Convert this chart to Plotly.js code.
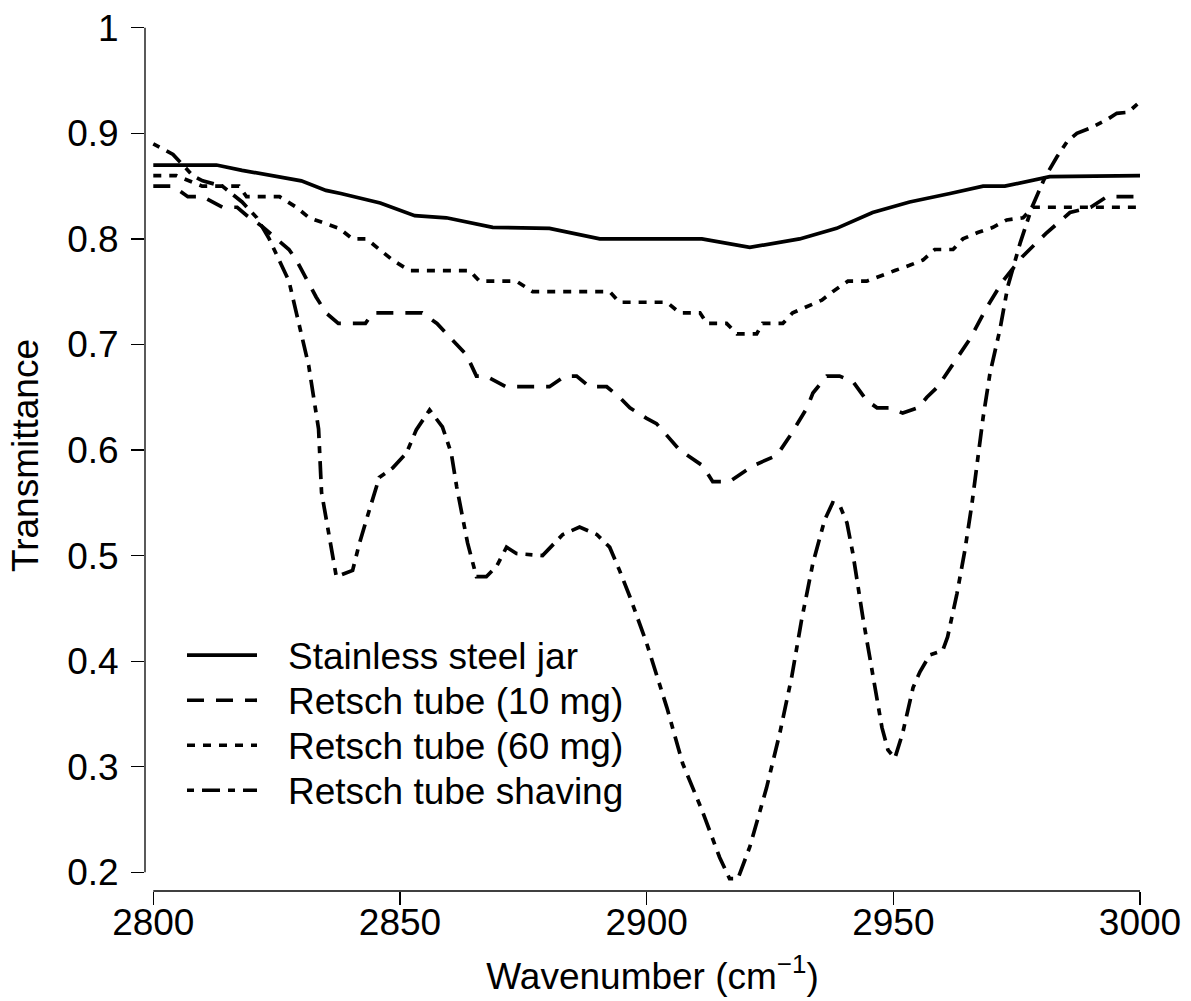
<!DOCTYPE html>
<html>
<head>
<meta charset="utf-8">
<script src="https://cdn.plot.ly/plotly-3.0.1.min.js"></script>
<style>html,body{margin:0;padding:0;background:#fff;}#chart{width:1191px;height:1001px;}</style>
</head>
<body>
<div id="chart"></div>
<script>
// ---- data ----
const seriesNames = ["Stainless steel jar", "Retsch tube (10 mg)", "Retsch tube (60 mg)", "Retsch tube shaving"];

const steelX = [2800, 2812.8, 2818, 2824, 2830, 2835, 2838, 2846, 2853, 2859.4, 2868.8, 2880.3, 2890.5, 2911.2, 2920.9, 2931, 2938.5, 2945.8, 2953.3, 2961.5, 2968.2, 2972.6, 2981.7, 3000];
const steelY = [0.87, 0.87, 0.865, 0.86, 0.855, 0.846, 0.843, 0.834, 0.822, 0.82, 0.811, 0.81, 0.80, 0.80, 0.792, 0.80, 0.81, 0.825, 0.835, 0.843, 0.85, 0.85, 0.859, 0.86];

const tube10X = [2800, 2804, 2807, 2810, 2814, 2817, 2819, 2822, 2825, 2827.5, 2829, 2831, 2833, 2835, 2837.5, 2843, 2844.5, 2854.5, 2857.5, 2861.5, 2863.5, 2865.5, 2867.5, 2871.5, 2880.3, 2883.4, 2885.8, 2888.4, 2891.9, 2894.5, 2896.6, 2900, 2902, 2906.7, 2911.4, 2913.4, 2916.8, 2921.5, 2926.4, 2929, 2932.5, 2933.7, 2936.5, 2939.1, 2941.8, 2944.6, 2946.7, 2949.3, 2951.9, 2955, 2956.8, 2959, 2961.9, 2965.5, 2968.8, 2972.2, 2976.1, 2980.9, 2985.8, 2990, 2993.3, 3000];
const tube10Y = [0.85, 0.85, 0.84, 0.84, 0.83, 0.83, 0.822, 0.812, 0.80, 0.79, 0.78, 0.762, 0.745, 0.73, 0.72, 0.72, 0.73, 0.73, 0.72, 0.70, 0.69, 0.67, 0.67, 0.66, 0.66, 0.67, 0.67, 0.66, 0.66, 0.65, 0.64, 0.63, 0.625, 0.60, 0.585, 0.57, 0.57, 0.585, 0.595, 0.613, 0.64, 0.654, 0.67, 0.67, 0.665, 0.647, 0.64, 0.64, 0.635, 0.64, 0.65, 0.66, 0.68, 0.705, 0.734, 0.76, 0.783, 0.805, 0.825, 0.83, 0.84, 0.84];

const tube60X = [2800, 2804.7, 2809.9, 2817.4, 2818.9, 2825.6, 2829, 2831.6, 2837.7, 2840.4, 2843.2, 2845.8, 2848.5, 2851.9, 2864.1, 2866.1, 2873.6, 2876.9, 2892.5, 2894.5, 2904.1, 2906.7, 2910.8, 2912.2, 2916.2, 2918.3, 2922.3, 2923.5, 2927.6, 2929.6, 2935.5, 2937.7, 2940.8, 2944.6, 2947.3, 2950.3, 2953.3, 2956, 2958.4, 2962.1, 2964.1, 2967.1, 2970.2, 2973, 2976.3, 2978.3, 3000];
const tube60Y = [0.86, 0.86, 0.85, 0.85, 0.84, 0.84, 0.83, 0.82, 0.81, 0.80, 0.80, 0.79, 0.78, 0.77, 0.77, 0.76, 0.76, 0.75, 0.75, 0.74, 0.74, 0.73, 0.73, 0.72, 0.72, 0.71, 0.71, 0.72, 0.72, 0.73, 0.742, 0.75, 0.76, 0.76, 0.765, 0.77, 0.775, 0.78, 0.79, 0.79, 0.80, 0.806, 0.811, 0.818, 0.82, 0.83, 0.83];

const shavingX = [2800, 2804, 2806, 2808, 2810, 2814, 2818, 2821, 2823.5, 2825.5, 2827.5, 2829, 2830.5, 2831.5, 2832.5, 2833.5, 2834.1, 2835.7, 2837.1, 2840.4, 2841.8, 2843.2, 2844.4, 2845.8, 2848.5, 2851.3, 2853.3, 2856, 2858.6, 2860.4, 2861.5, 2862.5, 2863.7, 2865.5, 2867.5, 2869.6, 2871.6, 2873.6, 2878.9, 2883, 2886.4, 2889.9, 2892.5, 2894.5, 2896.6, 2900, 2904.1, 2907.3, 2911.2, 2914.8, 2916.8, 2918.5, 2920.9, 2924.3, 2927, 2929.4, 2931.4, 2933.7, 2936.1, 2937.7, 2939.1, 2940.6, 2941.8, 2943.8, 2945.8, 2947.7, 2948.9, 2950.3, 2951.9, 2954, 2955.4, 2957.4, 2960, 2961, 2962.9, 2964.5, 2965.9, 2967, 2968.2, 2969.6, 2971.6, 2973.2, 2975.7, 2978.1, 2980.7, 2983.2, 2985.2, 2987.2, 2989.9, 2993.3, 2995.3, 2997.6, 3000];
const shavingY = [0.89, 0.88, 0.87, 0.86, 0.855, 0.85, 0.835, 0.82, 0.80, 0.78, 0.76, 0.73, 0.70, 0.68, 0.65, 0.62, 0.56, 0.515, 0.48, 0.486, 0.512, 0.534, 0.553, 0.574, 0.583, 0.597, 0.619, 0.638, 0.622, 0.597, 0.565, 0.54, 0.512, 0.48, 0.48, 0.49, 0.508, 0.502, 0.50, 0.52, 0.527, 0.52, 0.508, 0.486, 0.461, 0.417, 0.356, 0.303, 0.259, 0.214, 0.194, 0.194, 0.224, 0.28, 0.332, 0.385, 0.439, 0.493, 0.534, 0.55, 0.548, 0.531, 0.502, 0.442, 0.389, 0.337, 0.316, 0.308, 0.332, 0.375, 0.39, 0.406, 0.41, 0.423, 0.464, 0.505, 0.548, 0.591, 0.631, 0.673, 0.714, 0.755, 0.796, 0.83, 0.858, 0.878, 0.892, 0.90, 0.905, 0.913, 0.919, 0.92, 0.93];

const xTicks = [2800, 2850, 2900, 2950, 3000];
const xTickText = ["2800", "2850", "2900", "2950", "3000"];
const yTicks = [0.2, 0.3, 0.4, 0.5, 0.6, 0.7, 0.8, 0.9, 1];
const yTickText = ["0.2", "0.3", "0.4", "0.5", "0.6", "0.7", "0.8", "0.9", "1"];

// ---- styles & geometry ----
const FONT = "Liberation Sans, Arial, sans-serif";
const LW = 3.7;
const dashes = ["solid", "17px,12px", "8px,8px", "7px,8px,18px,8px"];
const xs = [steelX, tube10X, tube60X, shavingX];
const ys = [steelY, tube10Y, tube60Y, shavingY];

const W = 1191, H = 1001;
const M = {l: 145, r: 31, t: 20, b: 110.3};
const PW = W - M.l - M.r, PH = H - M.t - M.b;
const px2paperX = px => (px - M.l) / PW;
const py2paperY = py => (H - M.b - py) / PH;

// legend placement (pixels)
const LEG = {x0: 187, x1: 257, textX: 286, rowY0: 655, rowStep: 45};

const traces = seriesNames.map((n, i) => ({
  type: "scatter", mode: "lines", name: n,
  x: xs[i], y: ys[i],
  line: {color: "#000", width: LW, dash: dashes[i]}
}));

const legendShapes = seriesNames.map((n, i) => ({
  type: "line", xref: "paper", yref: "paper",
  x0: px2paperX(LEG.x0), x1: px2paperX(LEG.x1),
  y0: py2paperY(LEG.rowY0 + i * LEG.rowStep), y1: py2paperY(LEG.rowY0 + i * LEG.rowStep),
  line: {color: "#000", width: LW, dash: dashes[i]}
}));
const legendText = seriesNames.map((n, i) => ({
  text: n, xref: "paper", yref: "paper", showarrow: false,
  x: px2paperX(LEG.textX), y: py2paperY(LEG.rowY0 + i * LEG.rowStep + 1),
  xanchor: "left", yanchor: "middle",
  font: {family: FONT, size: 37, color: "#000"}
}));

const layout = {
  width: W, height: H,
  margin: M,
  paper_bgcolor: "#fff", plot_bgcolor: "#fff",
  font: {family: FONT, size: 37, color: "#000"},
  showlegend: false,
  xaxis: {
    range: [2798.32, 3004.05], showline: false, zeroline: false, showgrid: false,
    tickmode: "array", tickvals: xTicks, ticktext: xTickText,
    ticks: "outside", ticklen: 13, tickwidth: 1.3, tickcolor: "#000",
    ticklabelstandoff: -14,
    tickfont: {family: FONT, size: 37, color: "#000"},
    title: {text: "Wavenumber (cm<sup>\u22121</sup>)", font: {family: FONT, size: 37, color: "#000"}, standoff: 20},
    automargin: false
  },
  yaxis: {
    range: [0.18227, 1.00739], showline: false, zeroline: false, showgrid: false,
    tickmode: "array", tickvals: yTicks, ticktext: yTickText,
    ticks: "outside", ticklen: 13, tickwidth: 1.3, tickcolor: "#000",
    ticklabelstandoff: 5,
    tickfont: {family: FONT, size: 37, color: "#000"},
    title: {text: "Transmittance", font: {family: FONT, size: 37, color: "#000"}, standoff: 17},
    automargin: false
  },
  shapes: [
    {type: "line", xref: "x", yref: "paper", x0: xTicks[0], x1: xTicks[xTicks.length - 1], y0: 0, y1: 0, line: {color: "#000", width: 1.3}},
    {type: "line", xref: "paper", yref: "y", x0: 0, x1: 0, y0: yTicks[0], y1: yTicks[yTicks.length - 1], line: {color: "#000", width: 1.3}}
  ].concat(legendShapes),
  annotations: legendText
};

Plotly.newPlot("chart", traces, layout, {displayModeBar: false, staticPlot: true});
</script>
</body>
</html>
